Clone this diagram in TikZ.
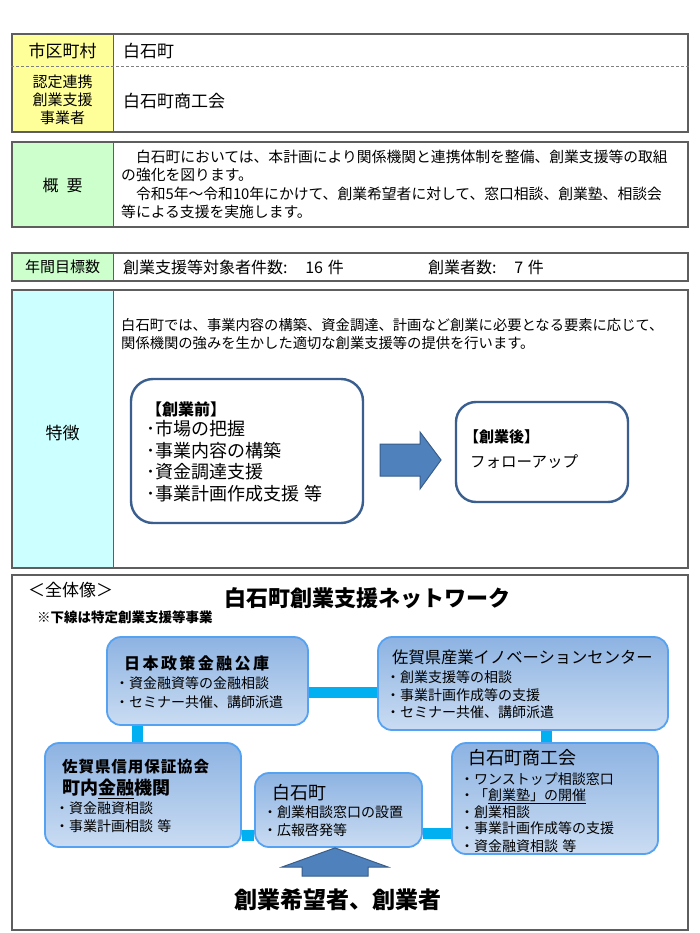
\documentclass[tikz,border=0pt]{standalone}
\usepackage{fontspec}
\setmainfont{Noto Sans CJK JP}
\usetikzlibrary{backgrounds,calc}
\definecolor{yellowlab}{HTML}{FFFF99}
\definecolor{greenlab}{HTML}{CCFFCC}
\definecolor{cyanlab}{HTML}{CCFFFF}
\definecolor{tblgray}{HTML}{5E5E5E}
\definecolor{boxblue}{HTML}{3A5F8E}
\definecolor{arrowfill}{HTML}{4F81BD}
\definecolor{arrowdraw}{HTML}{385D8A}
\definecolor{nborder}{HTML}{55A2F2}
\definecolor{ntop}{HTML}{8DB3E2}
\definecolor{nbot}{HTML}{CADCF2}
\definecolor{conncol}{HTML}{00B0F0}
\newcommand{\fsz}[2]{\fontsize{#1}{#2}\selectfont}
\begin{document}
\begin{tikzpicture}[x=1pt,y=-1pt,
  txt/.style={inner sep=0pt, anchor=west},
  ctxt/.style={inner sep=0pt, anchor=center},
  cell/.style={inner sep=0pt, draw=none},
  tbl/.style={inner sep=0pt, draw=tblgray, line width=1.3pt},
  bigbox/.style={inner sep=0pt, draw=boxblue, line width=2.4pt, rounded corners=22pt, fill=white},
  nbox/.style={inner sep=0pt, draw=nborder, line width=1.8pt, rounded corners=14pt, top color=ntop, bottom color=nbot},
  conn/.style={draw=conncol, line width=11pt},
  blockarrow/.style={fill=arrowfill, draw=arrowdraw, line width=1pt, line join=miter},
  item/.style={txt, font=\fsz{14}{17}}
]
\useasboundingbox (0,0) rectangle (700,933);

% ---------- Table 1 ----------
\node[cell, fill=yellowlab, minimum width=101pt, minimum height=98pt] (lab1) at (62.5,83) {};
\node[tbl, minimum width=676pt, minimum height=98pt] (tbl1) at (350,83) {};
\draw[tblgray, line width=1pt] (lab1.north east) -- (lab1.south east);
\draw[gray, line width=0.8pt, densely dashed] (tbl1.west |- 0,66) -- (tbl1.east |- 0,66);
\node[ctxt, font=\fsz{17}{20}] (c1) at (62.5,51) {市区町村};
\node[txt, font=\fsz{17}{20}] (v1) at (123,51) {白石町};
\node[ctxt, align=center, font=\fsz{15}{18}] (c2) at (62.5,100) {認定連携\\創業支援\\事業者};
\node[txt, font=\fsz{17}{20}] (v2) at (123,101) {白石町商工会};

% ---------- Table 2 ----------
\node[cell, fill=greenlab, minimum width=101pt, minimum height=85pt] (lab2) at (62.5,184.5) {};
\node[tbl, minimum width=676pt, minimum height=85pt] (tbl2) at (350,184.5) {};
\draw[tblgray, line width=1pt] (lab2.north east) -- (lab2.south east);
\node[ctxt, font=\fsz{16}{19}] (c3) at (62.5,185) {概\hspace{0.5em}要};
\node[txt, font=\fsz{14.8}{18}] (o1) at (121,157) {　白石町においては、本計画により関係機関と連携体制を整備、創業支援等の取組};
\node[txt, font=\fsz{14.8}{18}] (o2) at (121,175) {の強化を図ります。};
\node[txt, font=\fsz{14.8}{18}] (o3) at (121,194) {　令和5年～令和10年にかけて、創業希望者に対して、窓口相談、創業塾、相談会};
\node[txt, font=\fsz{14.8}{18}] (o4) at (121,212) {等による支援を実施します。};

% ---------- Table 3 ----------
\node[cell, fill=greenlab, minimum width=101pt, minimum height=28pt] (lab3) at (62.5,267) {};
\node[tbl, minimum width=676pt, minimum height=28pt] (tbl3) at (350,267) {};
\draw[tblgray, line width=1pt] (lab3.north east) -- (lab3.south east);
\node[ctxt, font=\fsz{15}{18}] (c4) at (62.5,267) {年間目標数};
\node[txt, font=\fsz{16}{19}] (v3a) at (123,267) {創業支援等対象者件数:\hspace{1.1em}16\hspace{0.3em}件};
\node[txt, font=\fsz{16}{19}] (v3b) at (428,267) {創業者数:\hspace{1.1em}7\hspace{0.3em}件};

% ---------- Table 4 ----------
\node[cell, fill=cyanlab, minimum width=101pt, minimum height=278pt] (lab4) at (62.5,429) {};
\node[tbl, minimum width=676pt, minimum height=278pt] (tbl4) at (350,429) {};
\draw[tblgray, line width=1pt] (lab4.north east) -- (lab4.south east);
\node[ctxt, font=\fsz{17}{20}] (c5) at (62.5,433) {特徴};
\node[txt, font=\fsz{14.3}{18}] (f1) at (121,325) {白石町では、事業内容の構築、資金調達、計画など創業に必要となる要素に応じて、};
\node[txt, font=\fsz{14.3}{18}] (f2) at (121,343) {関係機関の強みを生かした適切な創業支援等の提供を行います。};

\node[bigbox, minimum width=232pt, minimum height=144pt] (pre) at (247,451) {};
\node[txt, font=\bfseries\fsz{16}{19}] (pre0) at (146,409) {【創業前】};
\node[txt, font=\fsz{18}{21}] (pre1) at (146,429) {･市場の把握};
\node[txt, font=\fsz{18}{21}] (pre2) at (146,451) {･事業内容の構築};
\node[txt, font=\fsz{18}{21}] (pre3) at (146,472) {･資金調達支援};
\node[txt, font=\fsz{18}{21}] (pre4) at (146,494) {･事業計画作成支援\hspace{0.3em}等};

\node[bigbox, rounded corners=20pt, minimum width=172pt, minimum height=100pt] (post) at (542,452) {};
\node[txt, font=\bfseries\fsz{15}{18}] (post0) at (464,437) {【創業後】};
\node[txt, font=\fsz{15.5}{18}] (post1) at (470,462) {フォローアップ};

\draw[blockarrow] (380,444) -- (420,444) -- (420,432) -- (441,460) -- (420,489) -- (420,476) -- (380,476) -- cycle;

% ---------- Network ----------
\node[tbl, minimum width=676pt, minimum height=355pt] (net) at (350,752.5) {};
\node[txt, font=\fsz{17}{20}] (zen) at (28,590) {＜全体像＞};
\node[ctxt, font=\bfseries\fsz{22}{26}] (ntitle) at (367,598) {白石町創業支援ネットワーク};
\node[txt, font=\bfseries\fsz{13.5}{16}] (note) at (37,617) {※下線は特定創業支援等事業};

\node[nbox, minimum width=201pt, minimum height=88pt] (nihon) at (207.5,681) {};
\node[nbox, minimum width=290pt, minimum height=93pt] (inno) at (523,683.5) {};
\node[nbox, minimum width=196pt, minimum height=104pt] (shinyo) at (143,795) {};
\node[nbox, minimum width=167pt, minimum height=74pt] (town) at (338.5,810) {};
\node[nbox, minimum width=206pt, minimum height=111pt] (cci) at (555,798.5) {};

\begin{scope}[on background layer]
  \fill[white] (0,0) rectangle (700,933);
  \draw[conn] (nihon.east |- 0,692) -- (inno.west |- 0,692);
  \draw[conn] (nihon.south -| 137,0) -- (shinyo.north -| 137,0);
  \draw[conn] (inno.south -| 546,0) -- (cci.north -| 546,0);
  \draw[conn] (shinyo.east |- 0,835) -- (town.west |- 0,835);
  \draw[conn] (town.east |- 0,833) -- (cci.west |- 0,833);
\end{scope}

\node[txt, font=\bfseries\fsz{16}{19}\addfontfeature{LetterSpace=15}] (nihon0) at (124,663) {日本政策金融公庫};
\node[item] (nihon1) at (115,683) {・資金融資等の金融相談};
\node[item] (nihon2) at (115,702) {・セミナー共催、講師派遣};

\node[txt, font=\fsz{16.3}{19}] (inno0) at (392,657) {佐賀県産業イノベーションセンター};
\node[item] (inno1) at (386,677) {・創業支援等の相談};
\node[item] (inno2) at (386,695) {・事業計画作成等の支援};
\node[item] (inno3) at (386,712) {・セミナー共催、講師派遣};

\node[txt, font=\bfseries\fsz{15.5}{18}\addfontfeature{LetterSpace=6}] (shinyo0) at (62,767) {佐賀県信用保証協会};
\node[txt, font=\bfseries\fsz{18}{21}] (shinyo1) at (62,789) {町内\underline{金融}機関};
\node[item] (shinyo2) at (55,808) {・資金融資相談};
\node[item] (shinyo3) at (55,826) {・事業計画相談\hspace{0.3em}等};

\node[txt, font=\fsz{18}{21}] (town0) at (272,793) {白石町};
\node[item] (town1) at (263,812) {・創業相談窓口の設置};
\node[item] (town2) at (263,830) {・広報啓発等};

\node[txt, font=\fsz{18}{21}] (cci0) at (468,758) {白石町商工会};
\node[item] (cci1) at (460,779) {・ワンストップ相談窓口};
\node[item] (cci2) at (460,796) {・「\underline{創業塾」の開催}};
\node[item] (cci3) at (460,812) {・創業相談};
\node[item] (cci4) at (460,828) {・事業計画作成等の支援};
\node[item] (cci5) at (460,846) {・資金融資相談\hspace{0.3em}等};

\coordinate (uptip) at (town.south -| 335,0);
\draw[blockarrow] (uptip) -- (388,867) -- (368,867) -- (368,876) -- (302,876) -- (302,867) -- (282,867) -- cycle;
\node[ctxt, font=\bfseries\fsz{23}{27}] (seeker) at (338,900) {創業希望者、創業者};
\end{tikzpicture}
\end{document}
